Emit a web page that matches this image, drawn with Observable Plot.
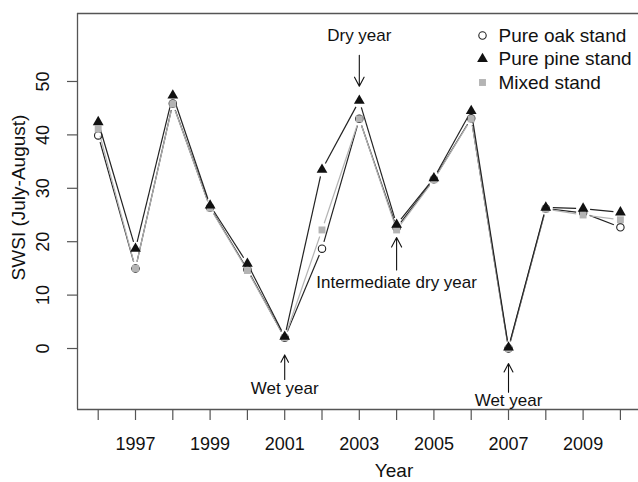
<!DOCTYPE html>
<html><head><meta charset="utf-8">
<script src="https://cdn.jsdelivr.net/npm/d3@7"></script>
<script src="https://cdn.jsdelivr.net/npm/@observablehq/plot@0.6"></script>
<style>body{margin:0;background:#fff;} svg{display:block;}</style>
</head><body><div id="chart"></div>
<script>
// ---- data ----
const years = [1996,1997,1998,1999,2000,2001,2002,2003,2004,2005,2006,2007,2008,2009,2010];
const oak   = [39.9,15.0,45.9,26.4,14.8,2.0,18.7,43.0,22.6,31.7,43.1,0.0,26.2,25.4,22.7];
const pine  = [42.4,18.7,47.4,26.8,15.9,2.2,33.5,46.4,23.2,31.9,44.5,0.2,26.4,26.2,25.5];
const mixed = [41.1,15.0,45.8,26.3,14.6,2.0,22.2,43.0,22.2,31.6,43.0,0.0,26.1,25.0,24.1];
const xLabelYears = [1997,1999,2001,2003,2005,2007,2009];
const yTicks = [0,10,20,30,40,50];
const legendLabels = ["Pure oak stand","Pure pine stand","Mixed stand"];
const annLabels = ["Wet year","Dry year","Intermediate dry year","Wet year"];
const annYears = [2001,2003,2004,2007];
const annTextValue = [-7.5,58.6,12.4,-9.8];
const annArrowFrom = [-5.8,54.9,14.7,-8.2];
const annArrowTo = [-1.2,49.1,20.8,-2.8];

// ---- scale limits ----
const xDomain = [1995.445, 2010.485];
const yDomain = [-11.42, 62.73];

// ---- styles ----
const INK = "#111";
const AXIS = "#555";
const GRAY = "#b4b4b4";
const seriesStyle = {
  oak:   {symbol:"circle",   r:3.7, fill:"none", stroke:"#222", line:"#222"},
  pine:  {symbol:"triangle", r:4.0, fill:"#111", stroke:"none", line:"#222"},
  mixed: {symbol:"square",   r:3.9, fill:GRAY,   stroke:"none", line:GRAY}
};
const legendKeys = ["oak","pine","mixed"];

const pts = vals => years.map((y,i) => ({year:y, v:vals[i]}));
const segs = vals => d3.pairs(pts(vals)).map(([a,b]) => ({x1:a.year, y1:a.v, x2:b.year, y2:b.v}));
const seriesVals = {oak, pine, mixed};

const lineMark = k => Plot.arrow(segs(seriesVals[k]), {
  x1:"x1", y1:"y1", x2:"x2", y2:"y2", stroke: seriesStyle[k].line,
  strokeWidth:1.2, headLength:0, inset:7, strokeLinecap:"butt"
});
const dotMark = k => Plot.dot(pts(seriesVals[k]), {
  x:"year", y:"v", symbol: seriesStyle[k].symbol, r: seriesStyle[k].r,
  fill: seriesStyle[k].fill, stroke: seriesStyle[k].stroke, strokeWidth:1.1
});

const ann = annLabels.map((t,i) => ({t, year:annYears[i], tv:annTextValue[i], a:annArrowFrom[i], b:annArrowTo[i]}));

const legendMarks = legendKeys.flatMap((k,i) => [
  Plot.dot([legendLabels[i]], {frameAnchor:"top-left", dx:405, dy:22 + i*23.5,
    symbol: seriesStyle[k].symbol, r: seriesStyle[k].r, fill: seriesStyle[k].fill,
    stroke: seriesStyle[k].stroke, strokeWidth:1.1}),
  Plot.text([legendLabels[i]], {frameAnchor:"top-left", dx:421, dy:22 + i*23.5,
    text: d => d, textAnchor:"start", lineAnchor:"middle", fontSize:19, fill:INK})
]);

const chart = Plot.plot({
  width: 638, height: 482,
  marginLeft: 77, marginRight: 0, marginTop: 13, marginBottom: 73,
  x: {domain:xDomain},
  y: {domain:yDomain},
  style: {fontFamily:"'Liberation Sans', Arial, sans-serif", fontSize:"18px", background:"#fff", color:INK},
  marks: [
    Plot.ruleY([yDomain[1]], {stroke:AXIS, strokeWidth:1.3}),
    Plot.ruleY([yDomain[0]], {stroke:AXIS, strokeWidth:1.3}),
    Plot.ruleX([xDomain[0]], {stroke:AXIS, strokeWidth:1.3}),
    Plot.axisY({ticks:yTicks, tickSize:10, tickFormat:() => "", label:null, stroke:AXIS, strokeWidth:1.2}),
    Plot.text(yTicks, {y:d => d, text:d => String(d), frameAnchor:"left", dx:-34, rotate:-90,
      textAnchor:"middle", lineAnchor:"middle", fontSize:18, fill:INK}),
    Plot.axisX({ticks:years, tickSize:11, tickPadding:17, label:null, fontSize:18, stroke:AXIS, strokeWidth:1.2, fill:INK,
      tickFormat: d => xLabelYears.includes(d) ? String(d) : ""}),
    Plot.text(["Year"], {frameAnchor:"bottom", dx:36, dy:61, textAnchor:"middle", lineAnchor:"middle", fontSize:19, fill:INK}),
    Plot.text(["SWSI (July-August)"], {frameAnchor:"left", dx:-59, dy:-14, rotate:-90,
      textAnchor:"middle", lineAnchor:"middle", fontSize:19, fill:INK}),
    lineMark("oak"), lineMark("mixed"), lineMark("pine"),
    dotMark("oak"), dotMark("mixed"), dotMark("pine"),
    Plot.arrow(ann, {x1:"year", y1:"a", x2:"year", y2:"b", stroke:INK, strokeWidth:1.1, headLength:15, headAngle:55}),
    Plot.text(ann, {x:"year", y:"tv", text:"t", fontSize:17, fill:INK}),
    ...legendMarks
  ]
});
document.getElementById("chart").appendChild(chart);
</script>
</body></html>
